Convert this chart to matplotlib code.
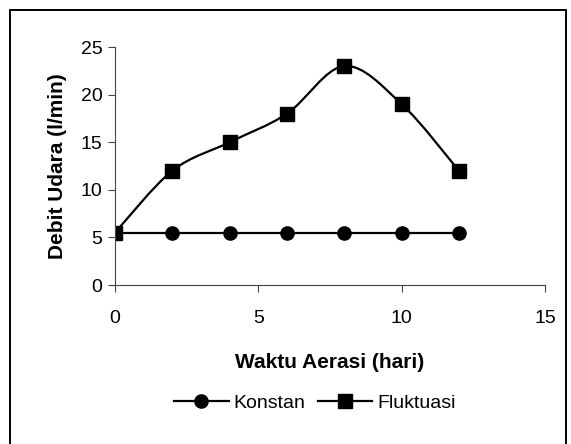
import matplotlib as mpl
mpl.use('Agg')
import matplotlib.pyplot as plt
import numpy as np
from matplotlib.path import Path
from matplotlib.patches import PathPatch, Rectangle
from matplotlib.lines import Line2D

# data
hari = [0, 2, 4, 6, 8, 10, 12]
konstan = [5.5, 5.5, 5.5, 5.5, 5.5, 5.5, 5.5]
fluktuasi = [5.5, 12, 15, 18, 23, 19, 12]

plt.rcParams['font.family'] = ['Liberation Sans', 'DejaVu Sans']


def smooth_path(xs, ys):
    # bezier ala excel (catmull-rom, tension 1/6)
    p = np.column_stack([xs, ys]).astype(float)
    verts = [p[0]]
    codes = [Path.MOVETO]
    n = len(p)
    for i in range(n - 1):
        p0 = p[i - 1] if i > 0 else p[i]
        p3 = p[i + 2] if i + 2 < n else p[i + 1]
        c1 = p[i] + (p[i + 1] - p0) / 6.0
        c2 = p[i + 1] - (p3 - p[i]) / 6.0
        verts += [c1, c2, p[i + 1]]
        codes += [Path.CURVE4] * 3
    return Path(verts, codes)


W, H = 571, 444
fig = plt.figure(figsize=(W / 100, H / 100), dpi=100)
ax = fig.add_axes([115 / W, 1 - 285 / H, (545 - 115) / W, (285 - 47) / H])

ax.plot(hari, konstan, color='black', lw=1.6, marker='o', ms=9.5, label='Konstan')
ax.add_patch(PathPatch(smooth_path(hari, fluktuasi), fill=False, ec='black', lw=1.6))
ax.plot(hari, fluktuasi, ls='none', color='black', marker='s', ms=10)

ax.set_xlim(0, 15)
ax.set_ylim(0, 25)
ax.set_xticks([0, 5, 10, 15])
ax.set_yticks([0, 5, 10, 15, 20, 25])
ax.spines['top'].set_visible(False)
ax.spines['right'].set_visible(False)
for s in ['left', 'bottom']:
    ax.spines[s].set_color('#444444')
    ax.spines[s].set_linewidth(0.8)
ax.tick_params(direction='out', length=5, width=0.8, color='#444444', labelsize=14, pad=4)
ax.tick_params(axis='x', pad=13)

ax.set_xlabel('Waktu Aerasi (hari)', fontsize=15, fontweight='bold', labelpad=19)
ax.set_ylabel('Debit Udara (l/min)', fontsize=15, fontweight='bold', labelpad=10)

handles = [
    Line2D([], [], color='black', lw=1.6, marker='o', ms=9.5),
    Line2D([], [], color='black', lw=1.6, marker='s', ms=10),
]
fig.legend(handles, ['Konstan', 'Fluktuasi'], loc='center', bbox_to_anchor=(315 / W, 1 - 403 / H),
           frameon=False, fontsize=14, ncol=2, handlelength=2.8, columnspacing=0.65,
           handletextpad=0.25, borderpad=0, borderaxespad=0)

fig.patches.append(Rectangle((10 / W, -0.1), (566 - 10) / W, 1 - 10 / H + 0.1,
                             transform=fig.transFigure, fill=False, ec='black', lw=1.4))

fig.savefig('out.png', dpi=100)
